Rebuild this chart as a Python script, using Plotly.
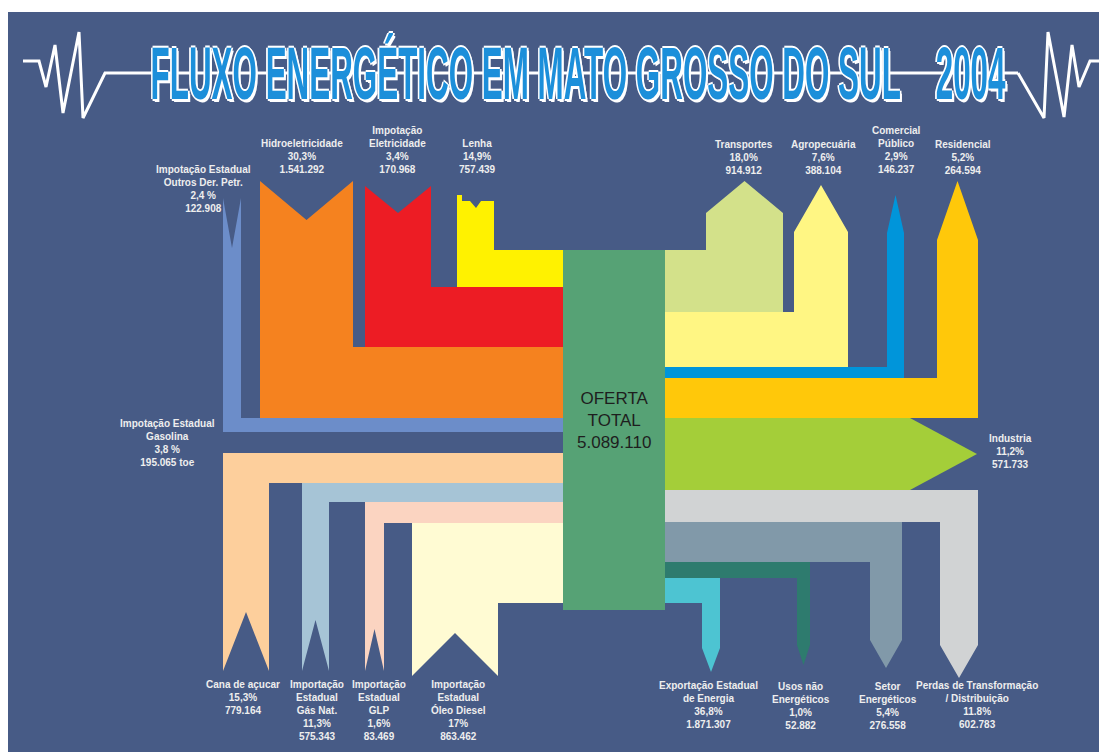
import plotly.graph_objects as go

# ---------------- data ----------------
total_lines = ["OFERTA", "TOTAL"]
total_value = 5089110

source_names = ["Impotação Estadual<br>Outros Der. Petr.", "Hidroeletricidade", "Impotação<br>Eletricidade",
                "Lenha", "Impotação Estadual<br>Gasolina", "Cana de açucar",
                "Importação<br>Estadual<br>Gás Nat.", "Importação<br>Estadual<br>GLP",
                "Importação<br>Estadual<br>Óleo Diesel"]
source_pct = ["2,4 %", "30,3%", "3,4%", "14,9%", "3,8 %", "15,3%", "11,3%", "1,6%", "17%"]
source_values = [122908, 1541292, 170968, 757439, 195065, 779164, 575343, 83469, 863462]
source_units = ["", "", "", "", " toe", "", "", "", ""]

use_names = ["Transportes", "Agropecuária", "Comercial<br>Público", "Residencial", "Industria",
             "Perdas de Transformação<br>/ Distribuição", "Setor<br>Energéticos",
             "Usos não<br>Energéticos", "Exportação Estadual<br>de Energia"]
use_pct = ["18,0%", "7,6%", "2,9%", "5,2%", "11,2%", "11.8%", "5,4%", "1,0%", "36,8%"]
use_values = [914912, 388104, 146237, 264594, 571733, 602783, 276558, 52882, 1871307]

title_text = "FLUXO ENERGÉTICO EM MATO GROSSO DO SUL\u00a0\u00a0\u00a0\u00a02004"

# ---------------- styles ----------------
BG = "#475B86"
source_colors = ["#6C8DC9", "#F5821F", "#ED1C24", "#FFF200", None, "#FDCF9C", "#A6C4D6", "#FBD4C1", "#FFFBD3"]
use_colors = ["#D3E18A", "#FFF683", "#0095DA", "#FFC80A", "#A4CE39", "#D1D3D4", "#8199A9", "#2E7B6E", "#4DC4D2"]
CORE_COLOR = "#56A275"
LABEL_COLOR = "#EEEEEE"
TITLE_COLOR = "#1C8FDA"

# ---------------- schematic layout (pixel space of the infographic) ----------------
CORE = dict(x0=563, x1=665, y0=250, y1=610)

source_geom = [
    dict(kind="top", col=(223, 241), top=198, notch=50, band=(418, 432)),
    dict(kind="top", col=(260, 353), top=181, notch=39, band=(347, 418)),
    dict(kind="top", col=(365, 431), top=186, notch=27, band=(287, 347)),
    dict(kind="lenha", col=(457, 494), top=195, band=(250, 287)),
    None,
    dict(kind="bottom", col=(223, 269), bottom=671, notch=59, band=(453, 483)),
    dict(kind="bottom", col=(302, 329), bottom=671, notch=51, band=(483, 502)),
    dict(kind="bottom", col=(365, 384), bottom=671, notch=42, band=(502, 523)),
    dict(kind="bottom", col=(412, 498), bottom=676, notch=43, band=(523, 603)),
]
use_geom = [
    dict(kind="up", col=(706, 783), shoulder=213, peak=181, band=(250, 312)),
    dict(kind="up", col=(794, 848), shoulder=232, peak=185, band=(312, 367)),
    dict(kind="up", col=(887, 904), shoulder=233, peak=195, band=(367, 378)),
    dict(kind="up", col=(937, 978), shoulder=240, peak=181, band=(378, 418)),
    dict(kind="right", start=910, tip=977, band=(418, 490)),
    dict(kind="down", col=(940, 978), taper=645, tip=678, band=(490, 522)),
    dict(kind="down", col=(870, 902), taper=640, tip=668, band=(522, 562)),
    dict(kind="down", col=(797, 810), taper=645, tip=665, band=(562, 578)),
    dict(kind="down", col=(702, 720), taper=648, tip=672, band=(578, 603)),
]
source_label_pos = [(203, 169), (302, 143), (397, 130), (477, 143), (167, 423),
                    (243, 684), (317, 684), (379, 684), (458, 684)]
use_label_pos = [(744, 144), (823, 144), (896, 130), (963, 144), (1010, 438),
                 (977, 685), (888, 686), (801, 686), (708, 685)]

TITLE_X0, TITLE_X1, TITLE_Y = 150, 1005, 73
ecg_left = [(23, 61), (39, 61), (46, 87), (55, 45), (63, 113), (79, 32), (83, 118), (105, 73), (1018, 73)]
ecg_right = [(1018, 73), (1044, 118), (1048, 32), (1064, 117), (1072, 45), (1079, 87), (1090, 61), (1099, 61)]


def source_poly(g):
    x0, x1 = g["col"]
    b0, b1 = g["band"]
    cx = CORE["x0"]
    if g["kind"] == "top":
        mid = (x0 + x1) / 2
        pts = [(x0, g["top"]), (mid, g["top"] + g["notch"]), (x1, g["top"]),
               (x1, b0), (cx, b0), (cx, b1), (x0, b1)]
    elif g["kind"] == "lenha":
        t = g["top"]
        pts = [(x0, t), (x0 + 5, t), (x0 + 5, t + 6), (x0 + 13, t + 6), (x0 + 19, t + 13),
               (x0 + 24, t + 6), (x1, t + 6), (x1, b0), (cx, b0), (cx, b1), (x0, b1)]
    else:
        mid = (x0 + x1) / 2
        pts = [(cx, b0), (x0, b0), (x0, g["bottom"]), (mid, g["bottom"] - g["notch"]),
               (x1, g["bottom"]), (x1, b1), (cx, b1)]
    return pts


def use_poly(g):
    b0, b1 = g["band"]
    cx = CORE["x1"]
    if g["kind"] == "up":
        x0, x1 = g["col"]
        mid = (x0 + x1) / 2
        pts = [(cx, b0), (x0, b0), (x0, g["shoulder"]), (mid, g["peak"]), (x1, g["shoulder"]),
               (x1, b1), (cx, b1)]
    elif g["kind"] == "right":
        pts = [(cx, b0), (g["start"], b0), (g["tip"], (b0 + b1) / 2), (g["start"], b1), (cx, b1)]
    else:
        x0, x1 = g["col"]
        mid = (x0 + x1) / 2
        pts = [(cx, b0), (x1, b0), (x1, g["taper"]), (mid, g["tip"]), (x0, g["taper"]),
               (x0, b1), (cx, b1)]
    return pts


def fmt(v):
    return f"{v:,}".replace(",", ".")


fig = go.Figure()


def add_poly(pts, color, name):
    xs = [p[0] for p in pts] + [pts[0][0]]
    ys = [p[1] for p in pts] + [pts[0][1]]
    fig.add_trace(go.Scatter(x=xs, y=ys, fill="toself", fillcolor=color, mode="lines",
                             line=dict(width=0, color=color), name=name, hoverinfo="name",
                             showlegend=False))


# title line / ECG
for path in (ecg_left, ecg_right):
    fig.add_trace(go.Scatter(x=[p[0] for p in path], y=[p[1] for p in path], mode="lines",
                             line=dict(color="white", width=3), hoverinfo="skip", showlegend=False))

for name, g, c in zip(source_names, source_geom, source_colors):
    if g is not None:
        add_poly(source_poly(g), c, name.replace("<br>", " "))
for name, g, c in zip(use_names, use_geom, use_colors):
    add_poly(use_poly(g), c, name.replace("<br>", " "))

add_poly([(CORE["x0"], CORE["y0"]), (CORE["x1"], CORE["y0"]), (CORE["x1"], CORE["y1"]),
          (CORE["x0"], CORE["y1"])], CORE_COLOR, "Oferta total")

annotations = []
lab_font = dict(family="Liberation Sans, Arial, sans-serif", size=10, color=LABEL_COLOR)
for names, pcts, vals, pos, units in ((source_names, source_pct, source_values, source_label_pos, source_units),
                                      (use_names, use_pct, use_values, use_label_pos, [""] * 9)):
    for n, p, v, (x, y), u in zip(names, pcts, vals, pos, units):
        annotations.append(dict(x=x, y=y - 7, xref="x", yref="y", xanchor="center", yanchor="top",
                                text=f"<b>{n}<br>{p}<br>{fmt(v)}{u}</b>", showarrow=False,
                                align="center", font=lab_font))

annotations.append(dict(x=(CORE["x0"] + CORE["x1"]) / 2, y=420, xref="x", yref="y",
                        text="<br>".join(total_lines + [fmt(total_value)]), showarrow=False,
                        align="center", font=dict(family="Liberation Sans, Arial, sans-serif",
                                                  size=17, color="#1E1E1E")))

annotations.append(dict(x=(TITLE_X0 + TITLE_X1) / 2, y=TITLE_Y, xref="x", yref="y",
                        xanchor="center", yanchor="middle",
                        text=f"<b>{title_text}</b>", showarrow=False,
                        font=dict(family="Liberation Sans, Arial, sans-serif",
                                  size=74, color=TITLE_COLOR,
                                  shadow="3px 0px 0px #ffffff, -3px 0px 0px #ffffff, 0px 1.5px 0px #ffffff, "
                                         "0px -1.5px 0px #ffffff, 4px 2px 0px #ffffff")))

fig.update_layout(
    width=1099, height=752,
    margin=dict(l=8, r=0, t=12, b=0),
    paper_bgcolor="white", plot_bgcolor=BG,
    xaxis=dict(range=[8, 1099], visible=False, fixedrange=True),
    yaxis=dict(range=[752, 12], visible=False, fixedrange=True),
    annotations=annotations,
    showlegend=False,
)

# page fits the window exactly; the tall title is squeezed horizontally to its band
post_js = """
document.documentElement.style.overflow = 'hidden';
document.body.style.margin = '0';
document.body.style.overflow = 'hidden';
(function () {
  var target = %d;
  document.querySelectorAll('text.annotation-text').forEach(function (t) {
    if (t.textContent.indexOf('FLUXO') !== 0) { return; }
    var b = t.getBBox();
    if (!b.width) { return; }
    var cx = b.x + b.width / 2, cy = b.y + b.height / 2;
    var sx = target / b.width;
    var prev = t.getAttribute('transform') || '';
    t.setAttribute('transform', prev + ' translate(' + cx + ',' + cy + ') scale(' + sx + ',1) translate(' + (-cx) + ',' + (-cy) + ')');
  });
})();
""" % (TITLE_X1 - TITLE_X0)

fig.write_html("out.html", post_script=post_js, config={"displayModeBar": False})
